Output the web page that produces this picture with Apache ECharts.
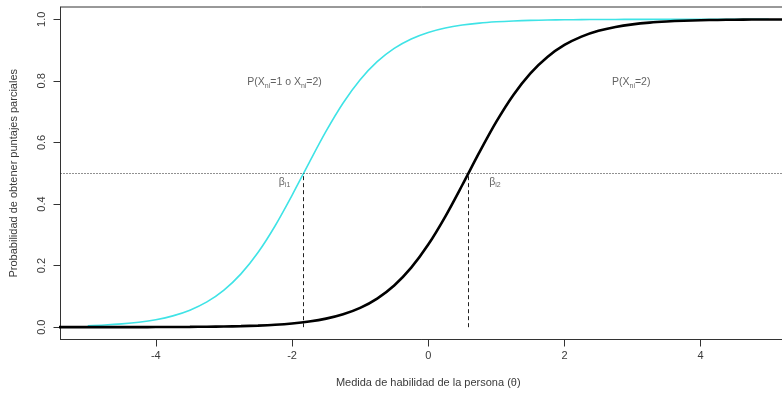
<!DOCTYPE html>
<html>
<head>
<meta charset="utf-8">
<script src="https://cdn.jsdelivr.net/npm/echarts@6/dist/echarts.min.js"></script>
<style>html,body{margin:0;padding:0;background:#fff}#c{width:782px;height:393px}</style>
</head>
<body>
<div id="c"></div>
<script>
// theta grids
var thetaCyan = [-5,-4.75,-4.5,-4.25,-4,-3.75,-3.5,-3.25,-3,-2.75,-2.5,-2.25,-2,-1.75,-1.5,-1.25,-1,-0.75,-0.5,-0.25,0,0.25,0.5,0.75,1,1.25,1.5,1.75,2,2.25,2.5,2.75,3,3.25,3.5,3.75,4,4.25,4.5,4.75,5];
// P(X>=1)
var probCyan = [0.0046,0.0069,0.0106,0.0161,0.0244,0.0368,0.0553,0.0821,0.1204,0.1731,0.2425,0.3287,0.4283,0.5340,0.6367,0.7283,0.8039,0.8625,0.9056,0.9362,0.9573,0.9717,0.9813,0.9877,0.9919,0.9947,0.9965,0.9977,0.9985,0.9990,0.9994,0.9996,0.9997,0.9998,0.9999,0.9999,0.9999,1.0,1.0,1.0,1.0];
var thetaBlack = [-5.5,-5.25,-5,-4.75,-4.5,-4.25,-4,-3.75,-3.5,-3.25,-3,-2.75,-2.5,-2.25,-2,-1.75,-1.5,-1.25,-1,-0.75,-0.5,-0.25,0,0.25,0.5,0.75,1,1.25,1.5,1.75,2,2.25,2.5,2.75,3,3.25,3.5,3.75,4,4.25,4.5,4.75,5,5.25,5.5];
// P(X=2)
var probBlack = [0.00003,0.00005,0.00007,0.00011,0.00017,0.00027,0.00041,0.00063,0.00095,0.00146,0.00223,0.00341,0.0052,0.0079,0.0121,0.0184,0.0278,0.0420,0.0628,0.0930,0.1355,0.1934,0.2684,0.3594,0.4618,0.5676,0.6675,0.7544,0.8245,0.8778,0.9166,0.9438,0.9626,0.9752,0.9836,0.9892,0.9929,0.9954,0.9970,0.9980,0.9987,0.9992,0.9994,0.9996,0.9998];
var xTicks = [-4,-2,0,2,4];
var yTicks = [0,0.2,0.4,0.6,0.8,1.0];
var beta1 = -1.83, beta2 = 0.59;
var labelsText = [
  {text:'{n|P(X}{s|ni}{n|=1 o X}{s|ni}{n|=2)}', x:-2.11, y:0.795},
  {text:'{n|P(X}{s|ni}{n|=2)}', x:2.98, y:0.795},
  {text:'{n|β}{s|i1}', x:-2.11, y:0.472},
  {text:'{n|β}{s|i2}', x:0.98, y:0.472}
];

function pairs(xs, ys){ return xs.map(function(x,i){return [x, ys[i]];}); }

var txtColor = '#3a3a3a';
var rich = {
  n:{fontSize:10.5, color:txtColor, fontFamily:'Liberation Sans', lineHeight:14},
  s:{fontSize:7, color:txtColor, fontFamily:'Liberation Sans', lineHeight:14, padding:[7,0,0,0]}
};

var chart = echarts.init(document.getElementById('c'), null, {renderer:'canvas'});
chart.setOption({
  animation:false,
  backgroundColor:'#fff',
  textStyle:{fontFamily:'Liberation Sans'},
  grid:{left:60.5, top:7, right:-14, bottom:53.5, outerBoundsMode:'none', containLabel:false, show:true, borderColor:'#333', borderWidth:1, backgroundColor:'transparent'},
  xAxis:{
    type:'value', min:-5.4, max:5.4,
    name:'Medida de habilidad de la persona (θ)', nameLocation:'middle', nameGap:38,
    nameTextStyle:{fontSize:11, color:txtColor, fontFamily:'Liberation Sans'},
    splitLine:{show:false},
    axisLine:{show:true, onZero:false, lineStyle:{color:'#333'}},
    axisTick:{show:true, length:7, lineStyle:{color:'#333'}, customValues:xTicks},
    axisLabel:{fontSize:11, color:txtColor, margin:11, customValues:xTicks, formatter:function(v){return String(v);}}
  },
  yAxis:{
    type:'value', min:-0.04, max:1.04,
    name:'Probabilidad de obtener puntajes parciales', nameLocation:'middle', nameGap:41,
    nameTextStyle:{fontSize:11, color:txtColor, fontFamily:'Liberation Sans'},
    splitLine:{show:false},
    axisLine:{show:true, onZero:false, lineStyle:{color:'#333'}},
    axisTick:{show:true, length:7, lineStyle:{color:'#333'}, customValues:yTicks},
    axisLabel:{fontSize:11, color:txtColor, margin:13, rotate:90, customValues:yTicks, formatter:function(v){return v.toFixed(1);}}
  },
  series:[
    {
      type:'line', name:'cyan', data:pairs(thetaCyan, probCyan), showSymbol:false, smooth:0.3,
      lineStyle:{color:'#3fe3e6', width:1.6}, z:2, clip:true,
      markLine:{
        silent:true, symbol:'none', label:{show:false},
        data:[
          [{coord:[-5.4,0.5], lineStyle:{type:[1,2], color:'#222', width:1}},{coord:[5.4,0.5]}],
          [{coord:[beta1,0], lineStyle:{type:[4,3], color:'#222', width:1}},{coord:[beta1,0.5]}],
          [{coord:[beta2,0], lineStyle:{type:[4,3], color:'#222', width:1}},{coord:[beta2,0.5]}]
        ]
      }
    },
    {
      type:'line', name:'black', data:pairs(thetaBlack, probBlack), showSymbol:false, smooth:0.3,
      lineStyle:{color:'#000', width:2.6}, z:3, clip:true
    },
    {
      type:'scatter', silent:true, symbolSize:1, itemStyle:{color:'rgba(0,0,0,0)'}, z:4,
      data:labelsText.map(function(d){return {value:[d.x,d.y], label:{show:true, position:'inside', formatter:d.text, rich:rich}};})
    }
  ]
});
</script>
</body>
</html>
